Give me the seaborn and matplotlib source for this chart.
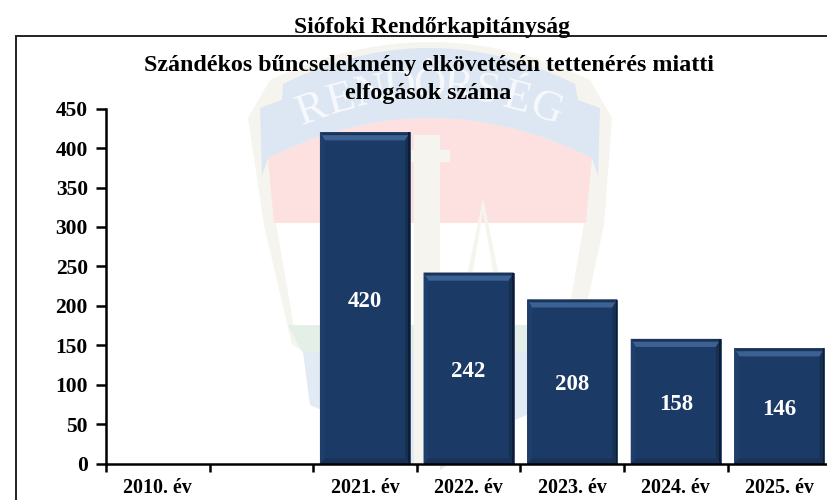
import numpy as np
import pandas as pd
import matplotlib
matplotlib.use('Agg')
import matplotlib.pyplot as plt
from matplotlib.patches import Polygon, Rectangle
import seaborn as sns

years = ['2010. év', ' ', '2021. év', '2022. év', '2023. év', '2024. év', '2025. év']
counts = [np.nan, np.nan, 420, 242, 208, 158, 146]
y_ticks = [0, 50, 100, 150, 200, 250, 300, 350, 400, 450]
top_title = 'Siófoki Rendőrkapitányság'
chart_title = ['Szándékos bűncselekmény elkövetésén tettenérés miatti', 'elfogások száma']
crest_word = 'RENDŐRSÉG'

BAR = '#1c3a66'
W, H = 827, 500

sns.set_theme(style='white')
plt.rcParams['font.family'] = ['Liberation Serif', 'DejaVu Serif']
plt.rcParams['font.weight'] = 'bold'

fig = plt.figure(figsize=(W / 100, H / 100), dpi=100, facecolor='white')

# %% Faded crest behind the chart, in pixel coordinates
bg = fig.add_axes([0, 0, 1, 1], zorder=0)
bg.set_xlim(0, W)
bg.set_ylim(H, 0)
bg.axis('off')


def arch(x0, x1, y_mid, y_end, n=30):
    x = np.linspace(x0, x1, n)
    t = (x - (x0 + x1) / 2) / ((x1 - x0) / 2)
    return np.column_stack([x, y_mid + (y_end - y_mid) * t ** 2])


cream = '#f6f4ee'
outer = np.vstack([[[248, 118]], arch(270, 590, 42, 80), [[612, 118], [604, 225], [578, 345], [520, 372],
                                                           [440, 440], [345, 372], [292, 345], [264, 225]]])
bg.add_patch(Polygon(outer, color=cream, lw=0))
bg.add_patch(Polygon(np.vstack([arch(268, 592, 118, 158), [[586, 223], [274, 223]]]), color='#fde1e0', lw=0))
ribbon = np.vstack([arch(283, 575, 48, 84), [[578, 100], [600, 108], [598, 176], [592, 158]],
                    arch(268, 592, 118, 158)[::-1], [[262, 176], [260, 108], [282, 100]]])
bg.add_patch(Polygon(ribbon, color='#dce7f3', lw=0))
bg.add_patch(Polygon([[276, 223], [584, 223], [566, 328], [294, 328]], color='white', lw=0))
bg.add_patch(Polygon([[288, 325], [572, 325], [558, 352], [302, 352]], color='#e4efe7', lw=0))
bg.add_patch(Polygon([[303, 352], [420, 352], [420, 470], [345, 420], [310, 405]], color='#e2eaf4', lw=0))
bg.add_patch(Polygon([[440, 352], [556, 352], [550, 405], [515, 420], [440, 470]], color='#e2eaf4', lw=0))
bg.add_patch(Rectangle((414, 135), 26, 330, color=cream, lw=0))
bg.add_patch(Rectangle((404, 150), 46, 12, color=cream, lw=0))
bg.add_patch(Polygon([[483, 198], [462, 300], [468, 300], [483, 212], [498, 300], [504, 300]], color=cream, lw=0))

for i, ch in enumerate(crest_word):
    x = 312 + i * (546 - 312) / (len(crest_word) - 1)
    t = (x - 430) / 118
    bg.text(x, 86 + 24 * t ** 2, ch, color='#f7f9fc', fontsize=32, family='Liberation Serif',
            weight='normal', ha='center', va='center', rotation=-20 * t)

# Outer frame: only the left and top edges fall inside the picture
bg.plot([16, 16, W], [H, 35.5, 35.5], color='#222222', lw=1.4, solid_joinstyle='miter')

# %% Bars
ax = fig.add_axes([106 / W, 1 - 463.5 / H, 7 * 103.6 / W, 354.8 / H], zorder=1)
ax.patch.set_alpha(0)
df = pd.DataFrame({'year': years, 'count': counts})
sns.barplot(data=df, x='year', y='count', color=BAR, saturation=1, width=0.87, ax=ax)
ax.set_xlim(-0.5, 6.5)
ax.set_ylim(0, 450)
ax.set_xlabel('')
ax.set_ylabel('')
ax.set_yticks(y_ticks)
ax.tick_params(axis='y', length=7, width=1.8, color='black', labelcolor='black', pad=6, labelsize=15.5, left=True)
ax.set_xticks(np.arange(-0.5, 7, 1))
ax.set_xticklabels([])
ax.set_xticks(range(len(years)), labels=years, minor=True)
ax.tick_params(axis='x', which='major', length=6, width=1.8, color='black', bottom=True)
ax.tick_params(axis='x', which='minor', length=0, pad=10.5, labelsize=14.4, labelcolor='black')
ax.spines[['top', 'right']].set_visible(False)
ax.spines[['left', 'bottom']].set_linewidth(1.8)
ax.spines[['left', 'bottom']].set_color('black')

# Bevel on each bar, sized from the drawn bar
for bar in list(ax.patches):
    if not np.isfinite(bar.get_height()) or bar.get_height() == 0:
        continue
    x0, w, h = bar.get_x(), bar.get_width(), bar.get_height()
    x1 = x0 + w
    dx, dy = w * 0.055, 450 * 8 / 354.8
    bar.set_edgecolor('#27466f')
    bar.set_linewidth(0.6)
    ax.add_patch(Polygon([[x0, h], [x1, h], [x1 - dx, h - dy], [x0 + dx, h - dy]], color='#3c6193', lw=0))
    ax.add_patch(Polygon([[x0, h], [x1, h], [x1 - dx * 0.4, h - dy * 0.35], [x0 + dx * 0.4, h - dy * 0.35]],
                         color='#1a3459', lw=0))
    ax.add_patch(Polygon([[x1, h], [x1, 0], [x1 - dx, dy * 0.6], [x1 - dx, h - dy]], color='#16304f', lw=0))
    ax.add_patch(Polygon([[x1, h], [x1, 0], [x1 - dx * 0.35, 0], [x1 - dx * 0.35, h]], color='#0e1d35', lw=0))
    ax.add_patch(Polygon([[x0, h], [x0, 0], [x0 + dx, dy * 0.6], [x0 + dx, h - dy]], color='#1e3e6c', lw=0))
    ax.add_patch(Polygon([[x0, 0], [x1, 0], [x1 - dx, dy * 0.6], [x0 + dx, dy * 0.6]], color='#183157', lw=0))

for c in ax.containers:
    vals = [f'{v:.0f}' if np.isfinite(v) and v > 0 else '' for v in c.datavalues]
    for t in ax.bar_label(c, labels=vals, label_type='center', color='white', fontsize=16.5, zorder=5):
        t.set_position((0, -2.5))

# %% Titles
fig.text(432 / W, 1 - 28 / H, top_title, ha='center', va='center', fontsize=17, color='black')
fig.text(428.5 / W, 1 - 66 / H, chart_title[0], ha='center', va='center', fontsize=17.3, color='black', zorder=3)
fig.text(428.5 / W, 1 - 93 / H, chart_title[1], ha='center', va='center', fontsize=17.3, color='black', zorder=3)

fig.savefig('out.png', dpi=100)
